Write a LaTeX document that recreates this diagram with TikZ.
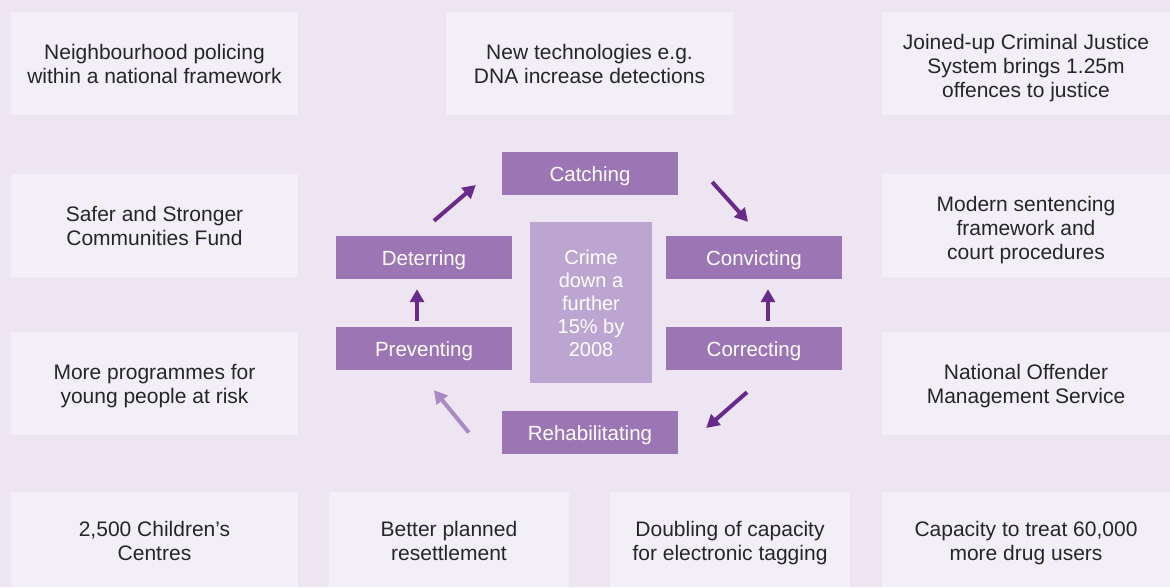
\documentclass[tikz,border=0pt]{standalone}
\usepackage{fontspec}
\setmainfont{Liberation Sans}
\usetikzlibrary{arrows.meta,calc}

\definecolor{pagebg}{RGB}{237,229,242}
\definecolor{notefill}{RGB}{242,239,247}
\definecolor{stagefill}{RGB}{155,117,180}
\definecolor{goalfill}{RGB}{188,166,209}
\definecolor{arrowdark}{RGB}{106,42,140}
\definecolor{arrowlight}{RGB}{169,138,196}
\definecolor{notetext}{RGB}{38,38,38}

\tikzset{
  notebox/.style={fill=notefill, inner sep=0pt, align=center, text=notetext,
    text height=39.4pt, text depth=0pt,
    minimum height=103pt, font=\fontsize{21}{24}\selectfont},
  threeline/.style={text height=67.4pt},
  bottomrow/.style={minimum height=95pt, text height=41.4pt},
  stagebox/.style={fill=stagefill, inner sep=0pt, text=white,
    text height=20pt, text depth=4.5pt,
    minimum width=176pt, minimum height=43pt, font=\fontsize{20.5}{24}\selectfont},
  goalbox/.style={fill=goalfill, inner sep=0pt, align=center, text=white,
    text height=107pt, text depth=0pt,
    minimum width=122pt, minimum height=161pt, font=\fontsize{20}{22.8}\selectfont},
  cyclearrow/.style={draw=arrowdark, line width=4pt, -{Triangle[length=13pt,width=14pt]}},
  fadedarrow/.style={cyclearrow, draw=arrowlight}
}

\begin{document}
\begin{tikzpicture}[x=1pt,y=1pt,yscale=-1,xscale=1]
%background
\fill[pagebg] (0,0) rectangle (1170,587);
\useasboundingbox (0,0) rectangle (1170,587);

%Shape: Rectangle, top row
\node[notebox, minimum width=287pt] (neigh) at (154.5,63.5) {Neighbourhood policing\\within a national framework};
\node[notebox, minimum width=287pt] (newtech) at (589.5,63.5) {New technologies e.g.\\DNA increase detections};
\node[notebox, threeline, minimum width=288pt] (joined) at (1026,63.5) {Joined-up Criminal Justice\\System brings 1.25m\\offences to justice};
%Shape: Rectangle, sides
\node[notebox, minimum width=287pt] (safer) at (154.5,225.5) {Safer and Stronger\\Communities Fund};
\node[notebox, threeline, minimum width=288pt] (modern) at (1026,225.5) {Modern sentencing\\framework and\\court procedures};
\node[notebox, minimum width=287pt] (young) at (154.5,383.5) {More programmes for\\young people at risk};
\node[notebox, minimum width=288pt] (noms) at (1026,383.5) {National Offender\\Management Service};
%Shape: Rectangle, bottom row
\node[notebox, bottomrow, minimum width=287pt] (centres) at (154.5,539.5) {2,500 Children's\\Centres};
\node[notebox, bottomrow, minimum width=240pt] (resettle) at (449,539.5) {Better planned\\resettlement};
\node[notebox, bottomrow, minimum width=240pt] (tagging) at (730,539.5) {Doubling of capacity\\for electronic tagging};
\node[notebox, bottomrow, minimum width=288pt] (drugs) at (1026,539.5) {Capacity to treat 60,000\\more drug users};

%Shape: Rectangle, cycle
\node[stagebox] (catch) at (590,173.5) {Catching};
\node[stagebox] (convict) at (754,257.5) {Convicting};
\node[stagebox] (correct) at (754,348.5) {Correcting};
\node[stagebox] (rehab) at (590,432.5) {Rehabilitating};
\node[stagebox] (prevent) at (424,348.5) {Preventing};
\node[stagebox] (deter) at (424,257.5) {Deterring};
\node[goalbox] (goal) at (591,302.5) {Crime\\down a\\further\\15\% by\\2008};

%Straight Lines
\draw[cyclearrow] ($(deter.north)+(10,-15)$) -- ($(catch.west)+(-26,11.5)$);
\draw[cyclearrow] ($(catch.east)+(34,8.5)$) -- ($(convict.north)+(-6,-14)$);
\draw[cyclearrow] ($(correct.north)+(14,-6)$) -- ($(convict.south)+(14,10)$);
\draw[cyclearrow] ($(correct.south)+(-7,22)$) -- ($(rehab.east)+(28,-4.5)$);
\draw[fadedarrow] ($(rehab.west)+(-33,0)$) -- ($(prevent.south)+(10,20)$);
\draw[cyclearrow] ($(prevent.north)+(-7,-6)$) -- ($(deter.south)+(-7,10)$);

\end{tikzpicture}
\end{document}
